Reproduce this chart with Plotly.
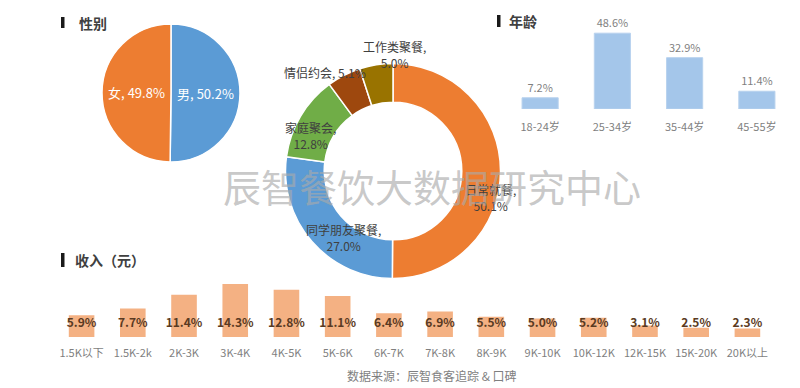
import plotly.graph_objects as go

FONT = "Noto Sans CJK SC"

# ---- data ----
gender_labels = ["男", "女"]
gender_values = [50.2, 49.8]
gender_colors = ["#5B9BD5", "#ED7D31"]

occasion_labels = ["日常就餐", "同学朋友聚餐", "家庭聚会", "情侣约会", "工作类聚餐"]
occasion_values = [50.1, 27.0, 12.8, 5.1, 5.0]
occasion_colors = ["#ED7D31", "#5B9BD5", "#70AD47", "#9E480E", "#997300"]

age_labels = ["18-24岁", "25-34岁", "35-44岁", "45-55岁"]
age_values = [7.2, 48.6, 32.9, 11.4]

income_labels = ["1.5K以下", "1.5K-2k", "2K-3K", "3K-4K", "4K-5K", "5K-6K", "6K-7K",
                 "7K-8K", "8K-9K", "9K-10K", "10K-12K", "12K-15K", "15K-20K", "20K以上"]
income_values = [5.9, 7.7, 11.4, 14.3, 12.8, 11.1, 6.4, 6.9, 5.5, 5.0, 5.2, 3.1, 2.5, 2.3]

W, H = 800, 388
def px(x): return x / W
def py(y): return 1 - y / H

fig = go.Figure()

# gender pie
fig.add_trace(go.Pie(
    labels=gender_labels, values=gender_values, sort=False, direction="clockwise",
    rotation=0, marker=dict(colors=gender_colors, line=dict(color="white", width=1.5)),
    texttemplate="%{label}, %{value:.1f}%", textposition="inside",
    insidetextorientation="horizontal",
    textfont=dict(family=FONT, size=13, color="white"),
    domain=dict(x=[px(102), px(240)], y=[py(162), py(24)]),
    showlegend=False, hoverinfo="label+value",
))

# occasion donut
fig.add_trace(go.Pie(
    labels=occasion_labels, values=occasion_values, sort=False, direction="clockwise",
    rotation=0, hole=0.64,
    marker=dict(colors=occasion_colors, line=dict(color="white", width=1.5)),
    textinfo="none",
    domain=dict(x=[px(285.5), px(500.5)], y=[py(278.5), py(63.5)]),
    showlegend=False, hoverinfo="label+value",
))

# donut labels
donut_label_pos = [(490, 197), (343, 237), (310, 135), (325, 72), (394, 55)]
for i, (lab, val) in enumerate(zip(occasion_labels, occasion_values)):
    x, y = donut_label_pos[i]
    if lab == "情侣约会":
        txt = f"{lab}, {val:.1f}%"
    else:
        txt = f"{lab},<br>{val:.1f}%"
    fig.add_annotation(x=px(x), y=py(y), xref="paper", yref="paper", text=txt,
                       showarrow=False, xanchor="center", yanchor="middle",
                       font=dict(family=FONT, size=12, color="#404040"),
                       align="center")

# age bars
fig.add_trace(go.Bar(
    x=age_labels, y=age_values, xaxis="x", yaxis="y",
    marker=dict(color="#A4C6EA", line=dict(color="#B8D2EE", width=1)),
    text=[f"{v:.1f}%" for v in age_values], textposition="outside",
    textfont=dict(family=FONT, size=11, color="#7F7F7F"), cliponaxis=False,
    showlegend=False,
))

# income bars
fig.add_trace(go.Bar(
    x=income_labels, y=income_values, xaxis="x2", yaxis="y2",
    marker=dict(color="#F4B183", line=dict(color="#F4B183", width=0)),
    showlegend=False, hoverinfo="x+y",
))
fig.add_trace(go.Scatter(
    x=income_labels, y=[3.5] * len(income_labels), xaxis="x2", yaxis="y2",
    mode="text", text=[f"<b>{v:.1f}%</b>" for v in income_values],
    textfont=dict(family=FONT, size=12, color="#5A3A22"), showlegend=False,
    hoverinfo="skip", cliponaxis=False,
))

fig.update_layout(
    width=W, height=H, margin=dict(l=0, r=0, t=0, b=0),
    paper_bgcolor="white", plot_bgcolor="rgba(0,0,0,0)",
    font=dict(family=FONT, color="#404040"),
    bargap=0.5,
    xaxis=dict(domain=[px(504), px(793)], anchor="y", showgrid=False, zeroline=False, showline=False,
               ticks="outside", ticklen=8, tickcolor="rgba(0,0,0,0)",
               tickfont=dict(family=FONT, size=11, color="#7F7F7F"), fixedrange=True),
    yaxis=dict(domain=[py(109), py(15.4)], anchor="x", range=[0, 60], visible=False, fixedrange=True),
    xaxis2=dict(domain=[px(44.6), px(784.4)], anchor="y2", showgrid=False, zeroline=False, showline=False,
                ticks="outside", ticklen=6, tickcolor="rgba(0,0,0,0)",
                tickfont=dict(family=FONT, size=11, color="#7F7F7F"), fixedrange=True),
    yaxis2=dict(domain=[py(337), py(263)], anchor="x2", range=[0, 20], visible=False, fixedrange=True),
)

# section titles with black bar markers
titles = [("性别", 61, 17, 28, 77, 23), ("年龄", 497, 15, 27, 507, 21), ("收入（元）", 61, 253, 267, 73, 260)]
for txt, bx, by0, by1, tx, ty in titles:
    fig.add_shape(type="rect", xref="paper", yref="paper",
                  x0=px(bx), x1=px(bx + 3.5), y0=py(by1), y1=py(by0),
                  fillcolor="#1a1a1a", line=dict(width=0))
    fig.add_annotation(x=px(tx), y=py(ty), xref="paper", yref="paper", text=f"<b>{txt}</b>",
                       showarrow=False, xanchor="left", yanchor="middle",
                       font=dict(family=FONT, size=14, color="#404040"))

# watermark
fig.add_annotation(x=px(432), y=py(185), xref="paper", yref="paper",
                   text="辰智餐饮大数据研究中心", showarrow=False,
                   xanchor="center", yanchor="middle",
                   font=dict(family=FONT, size=38, color="rgba(170,170,170,0.65)"))

# source
fig.add_annotation(x=px(432), y=py(375), xref="paper", yref="paper",
                   text="数据来源：辰智食客追踪 & 口碑", showarrow=False,
                   xanchor="center", yanchor="middle",
                   font=dict(family=FONT, size=12, color="#7F7F7F"))

fig.write_html("out.html", config={"displayModeBar": False},
               post_script="document.body.style.margin='0';")
